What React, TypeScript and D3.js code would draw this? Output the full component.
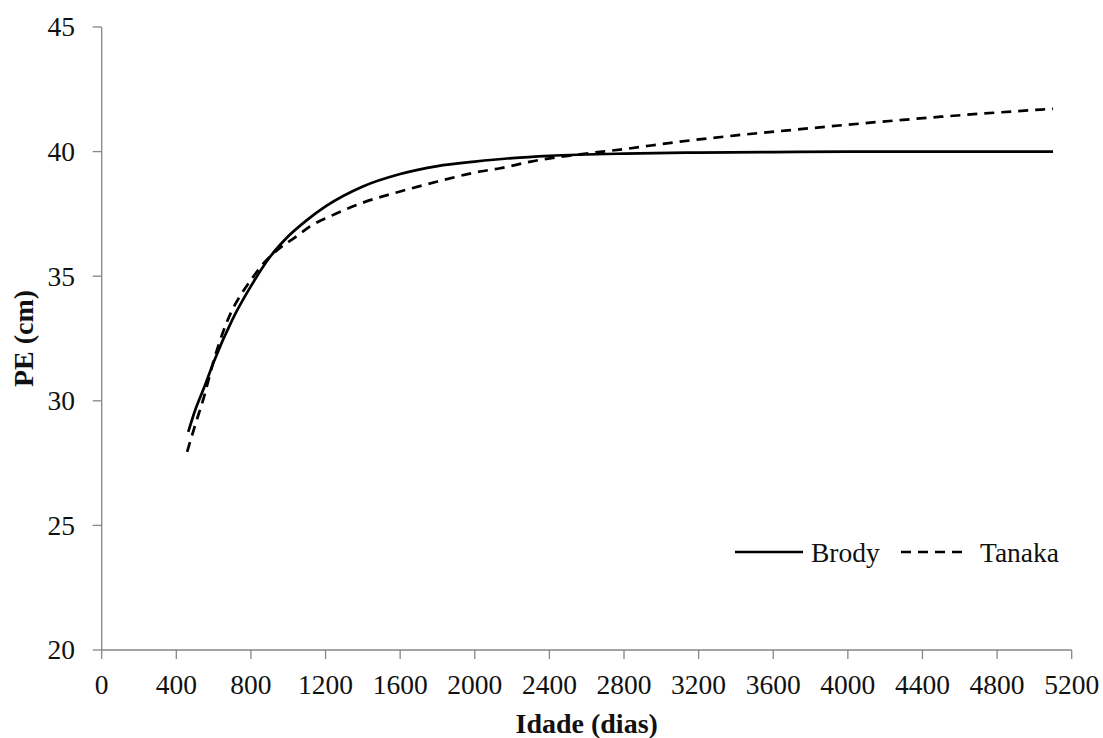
import React from "react";
import * as d3 from "d3";

const brodyDays = [464, 500, 550, 600, 700, 800, 900, 1000, 1100, 1200, 1400, 1600, 1800, 2000, 2200, 2400, 2800, 3200, 3600, 4000, 4600, 5100];
const brodyPE = [28.75, 29.6, 30.55, 31.55, 33.25, 34.6, 35.75, 36.6, 37.25, 37.8, 38.6, 39.1, 39.42, 39.6, 39.74, 39.83, 39.92, 39.96, 39.98, 40.0, 40.0, 40.0];

const tanakaDays = [458, 500, 550, 600, 650, 700, 750, 800, 866, 950, 1045, 1117, 1224, 1400, 1600, 1800, 2028, 2136, 2300, 2564, 2800, 3101, 3400, 3745, 4120, 4500, 5100];
const tanakaPE = [27.95, 29.0, 30.2, 31.6, 32.75, 33.65, 34.3, 34.85, 35.5, 36.1, 36.6, 37.0, 37.4, 37.95, 38.4, 38.8, 39.2, 39.33, 39.6, 39.89, 40.1, 40.4, 40.65, 40.9, 41.16, 41.4, 41.72];

const xTicks = [0, 400, 800, 1200, 1600, 2000, 2400, 2800, 3200, 3600, 4000, 4400, 4800, 5200];
const yTicks = [20, 25, 30, 35, 40, 45];

const seriesNames = ["Brody", "Tanaka"];

export default function App() {
  const W = 1103, H = 738;
  const x = d3.scaleLinear().domain([0, 5200]).range([101.7, 1071.7]);
  const y = d3.scaleLinear().domain([20, 45]).range([650, 27]);
  const line = d3
    .line<[number, number]>()
    .x((d) => x(d[0]))
    .y((d) => y(d[1]))
    .curve(d3.curveMonotoneX);
  const brody = brodyDays.map((d, i) => [d, brodyPE[i]] as [number, number]);
  const tanaka = tanakaDays.map((d, i) => [d, tanakaPE[i]] as [number, number]);
  const font = "'Liberation Serif', 'Times New Roman', serif";
  const axisColor = "#868686";
  const x0 = x(0), y0 = y(20);
  const fs = 27.5;
  return (
    <svg width={W} height={H} style={{ position: "absolute", left: 0, top: 0, background: "#fff" }} fontFamily={font}>
      <rect width={W} height={H} fill="#fff" />
      {/* axes */}
      <line x1={x0} x2={x0} y1={y(45)} y2={y0} stroke={axisColor} strokeWidth={1.3} />
      <line x1={x0} x2={x(5200)} y1={y0} y2={y0} stroke={axisColor} strokeWidth={1.3} />
      {yTicks.map((t) => (
        <g key={"y" + t}>
          <line x1={x0 - 9} x2={x0} y1={y(t)} y2={y(t)} stroke={axisColor} strokeWidth={1.3} />
          <text x={75} y={y(t)} dy="0.34em" textAnchor="end" fontSize={fs} fill="#111">
            {t}
          </text>
        </g>
      ))}
      {xTicks.map((t) => (
        <g key={"x" + t}>
          <line x1={x(t)} x2={x(t)} y1={y0} y2={y0 + 9} stroke={axisColor} strokeWidth={1.3} />
          <text x={x(t)} y={694} textAnchor="middle" fontSize={fs} fill="#111">
            {t}
          </text>
        </g>
      ))}
      {/* titles */}
      <text x={(x0 + x(5200)) / 2} y={733} textAnchor="middle" fontSize={28} fontWeight="bold" fill="#111">
        Idade (dias)
      </text>
      <text
        transform={`translate(33,${(y(45) + y0) / 2}) rotate(-90)`}
        textAnchor="middle"
        fontSize={28}
        fontWeight="bold"
        fill="#111"
      >
        PE (cm)
      </text>
      {/* curves */}
      <path d={line(brody) || ""} fill="none" stroke="#000" strokeWidth={2.7} />
      <path d={line(tanaka) || ""} fill="none" stroke="#000" strokeWidth={2.7} strokeDasharray="10,7" />
      {/* legend */}
      <line x1={735} x2={803} y1={552} y2={552} stroke="#000" strokeWidth={2.7} />
      <text x={811} y={562} fontSize={fs} fill="#111">
        {seriesNames[0]}
      </text>
      <line x1={901} x2={965} y1={552} y2={552} stroke="#000" strokeWidth={2.7} strokeDasharray="10,7" />
      <text x={980} y={562} fontSize={fs} fill="#111">
        {seriesNames[1]}
      </text>
    </svg>
  );
}
